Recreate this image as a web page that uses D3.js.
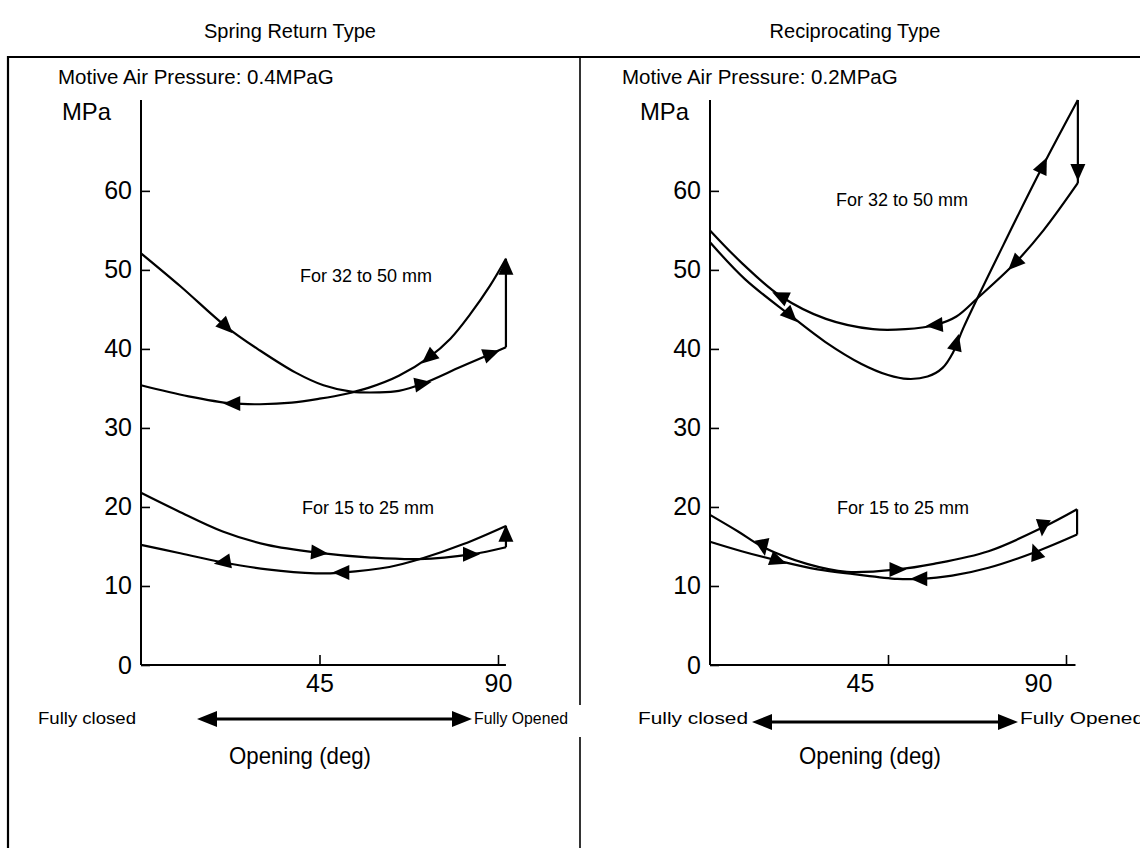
<!DOCTYPE html>
<html>
<head>
<meta charset="utf-8">
<script src="https://cdn.jsdelivr.net/npm/d3@7"></script>
<style>
  body { margin: 0; background: #fff; }
  svg { display: block; }
  text { font-family: "Liberation Sans", Arial, sans-serif; fill: #000; }
</style>
</head>
<body>
<svg id="chart" width="1140" height="848"></svg>
<script>
// tick values
const yTicks = [0, 10, 20, 30, 40, 50, 60];
const xTicks = [45, 90];

// Spring return type, 32 to 50 mm  [deg, MPa]
const springBigOpen = [[0, 52.1], [10, 47.9], [21.5, 42.8], [30, 39.8], [39, 37], [46, 35.4], [53, 34.6], [60, 34.5], [65, 34.7], [71, 35.6], [80.5, 37.7], [88.3, 39.4], [92, 40.2]];
const springBigJump = [[92, 40.2], [92, 51.4]];
const springBigClose = [[92, 51.4], [88, 48], [83, 44.4], [78, 41.3], [72.5, 38.9], [65, 36.6], [57.5, 35.1], [51.5, 34.3], [45, 33.7], [38, 33.2], [30, 33], [23, 33.1], [12, 34], [0, 35.4]];
// Spring return type, 15 to 25 mm
const springSmallOpen = [[0, 21.8], [9.3, 19.5], [20.6, 16.9], [31.8, 15.2], [44.9, 14.2], [58, 13.6], [70, 13.4], [83.2, 14], [92, 14.9]];
const springSmallJump = [[92, 14.9], [92, 17.6]];
const springSmallClose = [[92, 17.6], [81.3, 15.3], [71, 13.5], [62.6, 12.4], [50.5, 11.7], [44, 11.6], [31.8, 12.1], [20.6, 13], [9.3, 14.2], [0, 15.2]];

// Reciprocating type, 32 to 50 mm
const recipBigOpen = [[0, 53.5], [8.9, 48.8], [20.4, 44.2], [29.1, 40.9], [38.3, 38.1], [45, 36.7], [50, 36.2], [55, 36.5], [58.8, 37.6], [61.5, 39.6], [64, 42.6], [75, 54], [84.2, 63.2], [93, 71.5]];
const recipBigJump = [[93, 71.5], [93, 61]];
const recipBigClose = [[93, 61], [84.3, 55], [77, 50.8], [67.8, 46.5], [62.3, 44.1], [56.8, 43], [49.4, 42.5], [41.2, 42.5], [29.3, 43.8], [17.8, 46.7], [8.2, 50.8], [0, 55]];
// Reciprocating type, 15 to 25 mm
const recipSmallOpen = [[0, 19], [7.1, 16.9], [13.5, 14.9], [24.5, 12.8], [34.6, 11.8], [47.4, 12.1], [56.6, 12.8], [70.4, 14.4], [84.1, 17.4], [92.8, 19.7]];
const recipSmallJump = [[92.8, 19.7], [92.8, 16.5]];
const recipSmallClose = [[92.8, 16.5], [82.3, 14.3], [70.4, 12.3], [61.2, 11.3], [52.9, 10.9], [47.4, 10.9], [36.4, 11.5], [27.2, 12.1], [17.2, 13.2], [8, 14.4], [0, 15.6]];

// arrow heads [deg, MPa, direction in screen degrees]
const springArrows = [[21.5, 42.8, 45], [72.5, 38.9, 140], [23, 33.1, 180], [71, 35.6, -10], [88.3, 39.4, -20], [92, 50.4, -90],
                      [44.9, 14.2, 5], [83.2, 14, 0], [92, 16.6, -90], [50.5, 11.7, 180], [20.6, 13, 170]];
const recipArrows = [[17.8, 46.7, 205], [20.4, 44.2, 45], [56.8, 43, 175], [77, 50.8, 135], [62.3, 40.8, -75], [84.2, 63.2, -65], [93, 62.4, 90],
                     [13.5, 14.9, 80], [47.4, 12.1, 0], [84.1, 17.4, 95], [17.2, 13.2, 20], [52.9, 10.9, 180], [82.3, 14.3, -110]];

const svg = d3.select("#chart");

// outer frame and divider
svg.append("path").attr("d", "M8,849 L8,57 L1141,57").attr("fill", "none").attr("stroke", "#000").attr("stroke-width", 2.2);
svg.append("line").attr("x1", 580).attr("x2", 580).attr("y1", 57).attr("y2", 705).attr("stroke", "#000").attr("stroke-width", 1.6);
svg.append("line").attr("x1", 580).attr("x2", 580).attr("y1", 737).attr("y2", 848).attr("stroke", "#000").attr("stroke-width", 1.6);

function condensed(g, txt, x, y, size, len) {
    g.append("text").attr("x", x).attr("y", y).attr("font-size", size)
        .attr("textLength", len).attr("lengthAdjust", "spacingAndGlyphs").text(txt);
}

function arrowLine(g, x1, x2, y) {
    g.append("line").attr("x1", x1 + 14).attr("x2", x2 - 14).attr("y1", y).attr("y2", y)
        .attr("stroke", "#000").attr("stroke-width", 3.2);
    g.append("path").attr("d", `M${x1},${y} L${x1 + 20},${y - 8} L${x1 + 20},${y + 8} Z`);
    g.append("path").attr("d", `M${x2},${y} L${x2 - 20},${y - 8} L${x2 - 20},${y + 8} Z`);
}

function drawPanel(opt) {
    const g = svg.append("g");
    const x = d3.scaleLinear().domain([0, 90]).range([opt.x0, opt.x90]);
    const y = d3.scaleLinear().domain([0, 71.5]).range([665, 100]);

    // axis lines
    g.append("line").attr("x1", x(0)).attr("x2", x(0)).attr("y1", y(71.5)).attr("y2", y(0)).attr("stroke", "#000").attr("stroke-width", 2);
    g.append("line").attr("x1", x(0)).attr("x2", x(opt.xEnd)).attr("y1", y(0)).attr("y2", y(0)).attr("stroke", "#000").attr("stroke-width", 2);

    const yAxis = g.append("g").attr("transform", `translate(${x(0)},0)`)
        .call(d3.axisLeft(y).tickValues(yTicks).tickSizeInner(-9).tickSizeOuter(0).tickPadding(9).tickFormat(d3.format("d")));
    yAxis.select(".domain").remove();
    yAxis.selectAll("line").attr("stroke", "#000").attr("stroke-width", 1.6);
    yAxis.selectAll("text").attr("font-size", 25).attr("font-family", "Liberation Sans, Arial, sans-serif").attr("fill", "#000");

    const xAxis = g.append("g").attr("transform", `translate(0,${y(0)})`)
        .call(d3.axisBottom(x).tickValues(xTicks).tickSizeInner(-10).tickSizeOuter(0).tickPadding(9));
    xAxis.select(".domain").remove();
    xAxis.selectAll("line").attr("stroke", "#000").attr("stroke-width", 1.6);
    xAxis.selectAll("text").attr("font-size", 25).attr("font-family", "Liberation Sans, Arial, sans-serif")
        .attr("fill", "#000").attr("dx", opt.labelShift);

    const line = d3.line().x(d => x(d[0])).y(d => y(d[1])).curve(d3.curveCatmullRom.alpha(0.5));
    const straight = d3.line().x(d => x(d[0])).y(d => y(d[1]));
    opt.curves.forEach(c => {
        g.append("path").attr("d", line(c)).attr("fill", "none").attr("stroke", "#000").attr("stroke-width", 2.2);
    });
    opt.jumps.forEach(c => {
        g.append("path").attr("d", straight(c)).attr("fill", "none").attr("stroke", "#000").attr("stroke-width", 2.2);
    });

    g.selectAll(".arrow").data(opt.arrows).join("path").attr("class", "arrow")
        .attr("d", "M9,0 L-8,-7.5 L-8,7.5 Z")
        .attr("fill", "#000")
        .attr("transform", d => `translate(${x(d[0])},${y(d[1])}) rotate(${d[2]})`);

    // texts
    g.append("text").attr("x", opt.titleX).attr("y", 38).attr("font-size", 20).attr("text-anchor", "middle").text(opt.title);
    g.append("text").attr("x", opt.motiveX).attr("y", 84).attr("font-size", 20.5).text(opt.motive);
    condensed(g, "MPa", opt.mpaX, 120, 24, 49);
    g.append("text").attr("x", opt.bigX).attr("y", opt.bigY).attr("font-size", 18).text("For 32 to 50 mm");
    g.append("text").attr("x", opt.smallX).attr("y", 514).attr("font-size", 18).text("For 15 to 25 mm");

    condensed(g, "Fully closed", opt.closedX, 724, 16, opt.closedLen);
    condensed(g, "Fully Opened", opt.openedX, 724, 16, opt.openedLen);
    arrowLine(g, opt.arrowX1, opt.arrowX2, opt.arrowY);
    condensed(g, "Opening (deg)", opt.openingX, 764, 24, 142);
}

drawPanel({
    x0: 141, x90: 498, xEnd: 92, labelShift: 0,
    curves: [springBigOpen, springBigClose, springSmallOpen, springSmallClose],
    jumps: [springBigJump, springSmallJump],
    arrows: springArrows,
    title: "Spring Return Type", titleX: 290,
    motive: "Motive Air Pressure: 0.4MPaG", motiveX: 58, mpaX: 62,
    bigX: 300, bigY: 282, smallX: 302,
    closedX: 38, closedLen: 98, openedX: 474, openedLen: 94,
    arrowX1: 197, arrowX2: 472, arrowY: 719, openingX: 229
});

drawPanel({
    x0: 710, x90: 1066, xEnd: 92.4, labelShift: -28,
    curves: [recipBigOpen, recipBigClose, recipSmallOpen, recipSmallClose],
    jumps: [recipBigJump, recipSmallJump],
    arrows: recipArrows,
    title: "Reciprocating Type", titleX: 855,
    motive: "Motive Air Pressure: 0.2MPaG", motiveX: 622, mpaX: 640,
    bigX: 836, bigY: 206, smallX: 837,
    closedX: 638, closedLen: 110, openedX: 1020, openedLen: 124,
    arrowX1: 752, arrowX2: 1018, arrowY: 722, openingX: 799
});
</script>
</body>
</html>
